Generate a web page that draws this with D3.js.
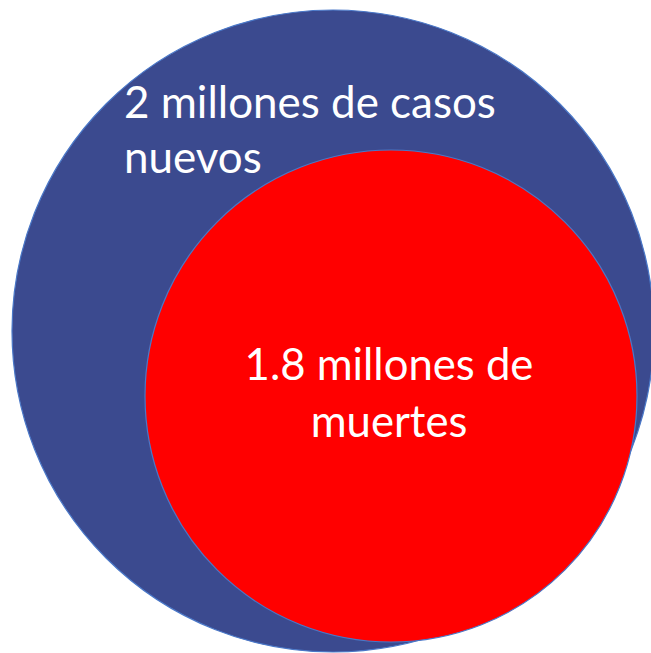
<!DOCTYPE html>
<html><head><meta charset="utf-8">
<script src="https://cdn.jsdelivr.net/npm/d3@7"></script>
<style>html,body{margin:0;padding:0;background:#fff;overflow:hidden}</style>
</head><body>
<script>
const labels = [["2 millones de casos","nuevos"],["1.8 millones de","muertes"]];
const values = [2, 1.8];
const colors = ["#3B4A8F","#FF0000"];

const W=651,H=653;
const svg=d3.select("body").append("svg").attr("width",W).attr("height",H);
const r=d3.scaleLinear().domain([1.8,2]).range([246,321]);
const centers=[[333,331],[391,396]];
const font="Lato, 'Open Sans', sans-serif";

values.forEach((v,i)=>{
  svg.append("circle").attr("cx",centers[i][0]).attr("cy",centers[i][1]).attr("r",r(v))
    .attr("fill",colors[i]).attr("stroke","#4A78C8").attr("stroke-width",1.2);
});

function fit(t,target){
  const w=t.node().getComputedTextLength();
  const fs=parseFloat(t.attr("font-size"));
  t.attr("font-size",fs*target/w);
}
// big circle label, left aligned
const t1=svg.append("g").attr("fill","#fff").style("font-family",font);
const a=t1.append("text").attr("x",124).attr("y",118).attr("font-size",42).text(labels[0][0]);
fit(a,372);
const fsA=a.attr("font-size");
t1.append("text").attr("x",124).attr("y",173).attr("font-size",fsA).text(labels[0][1]);

const t2=svg.append("g").attr("fill","#fff").style("font-family",font).attr("text-anchor","middle");
const b=t2.append("text").attr("x",389).attr("y",380).attr("font-size",42).text(labels[1][0]);
fit(b,289);
t2.append("text").attr("x",389).attr("y",437).attr("font-size",b.attr("font-size")).text(labels[1][1]);
</script>
</body></html>
